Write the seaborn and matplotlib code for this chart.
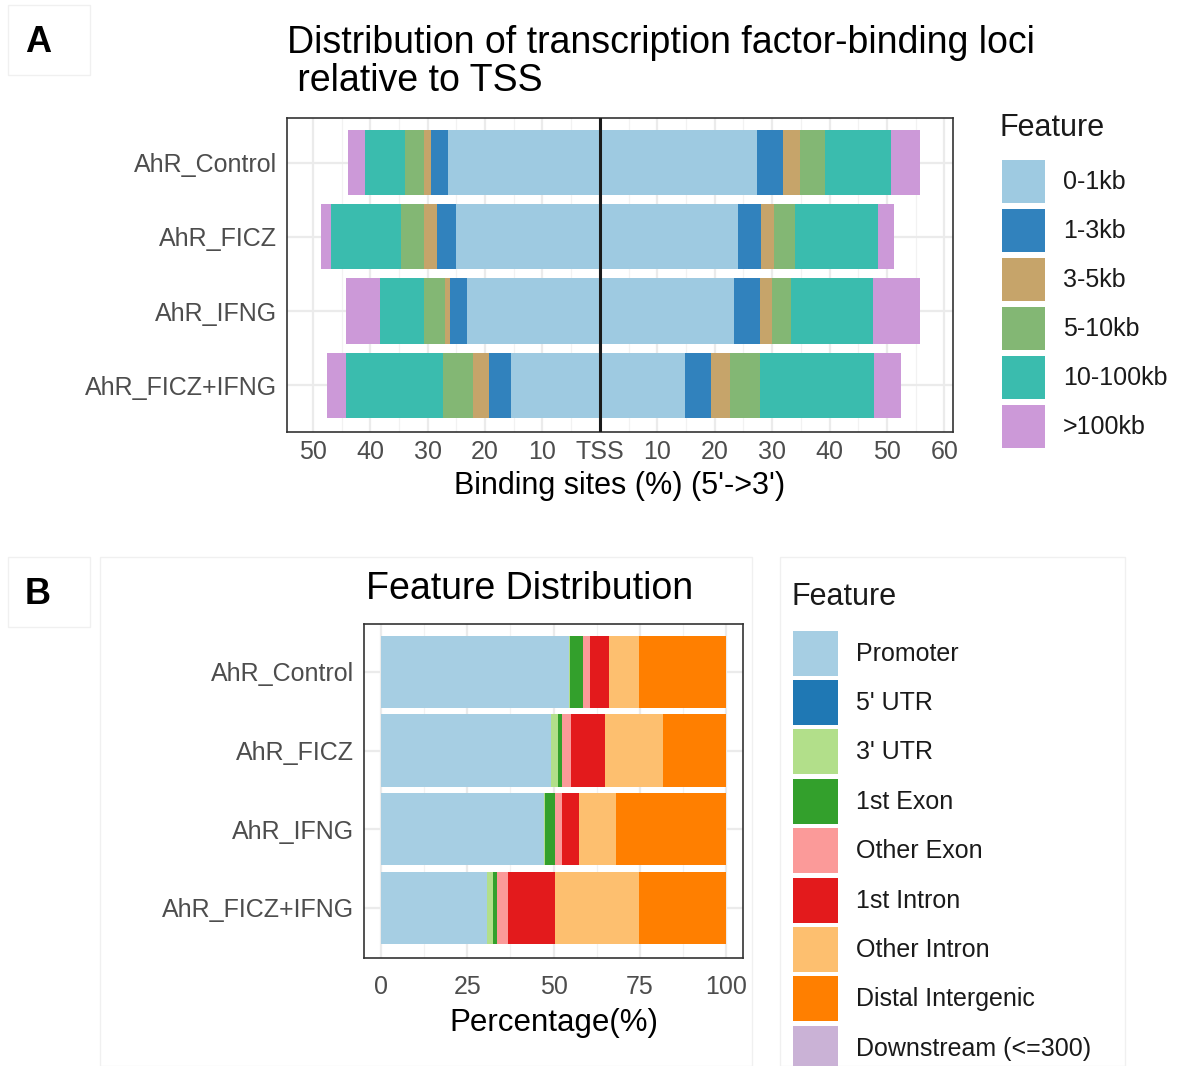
import numpy as np
import pandas as pd
import matplotlib
matplotlib.use("Agg")
import matplotlib.pyplot as plt
from matplotlib.patches import Patch, Rectangle
from matplotlib.ticker import FixedLocator
import seaborn as sns

# ---------------- data ----------------
groups = ["AhR_Control", "AhR_FICZ", "AhR_IFNG", "AhR_FICZ+IFNG"]

# Panel A: distance-to-TSS bins, percent of binding sites
tss_bins = ["0-1kb", "1-3kb", "3-5kb", "5-10kb", "10-100kb", ">100kb"]
tss_colors = ["#9ECAE1", "#3182BD", "#C6A46A", "#83B774", "#3ABCAE", "#CC99D8"]
upstream_control = [26.5, 2.9, 1.2, 3.3, 7.1, 2.8]
upstream_ficz = [25.0, 3.3, 2.3, 4.0, 12.2, 1.8]
upstream_ifng = [23.1, 3.0, 0.8, 3.7, 7.7, 5.9]
upstream_ficz_ifng = [15.4, 4.0, 2.7, 5.2, 16.9, 3.3]
downstream_control = [27.4, 4.5, 2.9, 4.4, 11.5, 5.1]
downstream_ficz = [24.0, 4.1, 2.2, 3.7, 14.4, 2.9]
downstream_ifng = [23.3, 4.5, 2.1, 3.4, 14.3, 8.1]
downstream_ficz_ifng = [14.8, 4.6, 3.2, 5.3, 19.8, 4.8]
tss_ticks = [-50, -40, -30, -20, -10, 0, 10, 20, 30, 40, 50, 60]
tss_tick_labels = ["50", "40", "30", "20", "10", "TSS", "10", "20", "30", "40", "50", "60"]

# Panel B: genomic feature annotation, percent
features = ["Promoter", "5' UTR", "3' UTR", "1st Exon", "Other Exon",
            "1st Intron", "Other Intron", "Distal Intergenic", "Downstream (<=300)"]
feature_colors = sns.color_palette("Paired", 9)
feat_control = [54.4, 0.0, 0.5, 3.7, 1.9, 5.7, 8.6, 25.2, 0.0]
feat_ficz = [49.3, 0.0, 1.9, 1.2, 2.6, 10.0, 16.8, 18.2, 0.0]
feat_ifng = [47.1, 0.0, 0.3, 3.1, 1.9, 5.0, 10.6, 32.0, 0.0]
feat_ficz_ifng = [30.6, 0.0, 1.8, 1.3, 3.1, 13.7, 24.3, 25.2, 0.0]
pct_ticks = [0, 25, 50, 75, 100]

# ---------------- style ----------------
sns.set_style("white")
plt.rcParams["font.family"] = ["Liberation Sans", "DejaVu Sans"]

W, H = 1200, 1066
fig = plt.figure(figsize=(W / 100, H / 100), dpi=100)


def fig_box(l, t, r, b):
    return [l / W, 1 - b / H, (r - l) / W, (b - t) / H]


def style_axes(ax, xpad):
    for s in ax.spines.values():
        s.set_color("#333333")
        s.set_linewidth(1.2)
    ax.set_axisbelow(True)
    ax.grid(which="major", color="#EBEBEB", lw=1.6)
    ax.grid(which="minor", axis="x", color="#F2F2F2", lw=0.9)
    ax.tick_params(axis="both", which="major", length=4, width=1.2,
                   color="#333333", labelcolor="#4D4D4D", labelsize=18, pad=3)
    ax.tick_params(axis="x", which="major", pad=xpad)
    ax.tick_params(which="minor", length=0)
    ax.set_ylabel("")


def stacked(ax, table, colors, sign, width):
    cum = np.cumsum(table, axis=1) * sign
    for k in range(table.shape[1] - 1, -1, -1):
        df = pd.DataFrame({"group": groups, "value": cum[:, k]})
        sns.barplot(data=df, x="value", y="group", order=groups, orient="h",
                    color=colors[k], width=width, saturation=1, errorbar=None,
                    linewidth=0, ax=ax)


def legend_kw(fs_pt, box_px, pitch_px, gap_px):
    fs = fs_pt * 100 / 72
    return dict(fontsize=fs_pt,
                handlelength=box_px / fs,
                handleheight=(box_px / fs - 0.245) / 0.65,
                labelspacing=(pitch_px - box_px) / fs,
                handletextpad=gap_px / fs)


# ---------------- panel A ----------------
axA = fig.add_axes(fig_box(287, 118, 953, 432))
up = np.array([upstream_control, upstream_ficz, upstream_ifng, upstream_ficz_ifng])
down = np.array([downstream_control, downstream_ficz, downstream_ifng, downstream_ficz_ifng])
stacked(axA, up, tss_colors, -1, 0.88)
stacked(axA, down, tss_colors, 1, 0.88)
axA.axvline(0, color="#1a1a1a", lw=2.2, zorder=5)
axA.set_xlim(-54.5, 61.5)
axA.set_ylim(3.63, -0.6)
axA.set_xticks(tss_ticks)
axA.set_xticklabels(tss_tick_labels)
axA.xaxis.set_minor_locator(FixedLocator(np.arange(-45, 60, 10)))
style_axes(axA, 1.5)
axA.set_xlabel("Binding sites (%) (5'->3')", fontsize=22, color="black", labelpad=5)
axA.set_ylabel("")

fig.text(287 / W, 1 - 62 / H,
         "Distribution of transcription factor-binding loci\n relative to TSS",
         fontsize=27, ha="left", va="center", linespacing=1.06, color="black")

legA = fig.legend(handles=[Patch(facecolor=c, edgecolor="none") for c in tss_colors],
                  labels=tss_bins, loc="upper left",
                  bbox_to_anchor=(1002 / W, 1 - 160 / H), frameon=False,
                  borderpad=0, borderaxespad=0, **legend_kw(18, 43, 49, 18))
for t in legA.get_texts():
    t.set_color("#1a1a1a")
fig.text(1000 / W, 1 - 128 / H, "Feature", fontsize=22, ha="left", va="center",
         color="#1a1a1a")

# ---------------- panel B ----------------
axB = fig.add_axes(fig_box(364, 624, 743, 958))
feat = np.array([feat_control, feat_ficz, feat_ifng, feat_ficz_ifng])
stacked(axB, feat, feature_colors, 1, 0.92)
axB.set_xlim(-5, 105)
axB.set_ylim(3.64, -0.61)
axB.set_xticks(pct_ticks)
axB.xaxis.set_minor_locator(FixedLocator([12.5, 37.5, 62.5, 87.5]))
style_axes(axB, 8)
axB.set_xlabel("Percentage(%)", fontsize=22.5, color="black", labelpad=7)
axB.set_ylabel("")

fig.text(530 / W, 1 - 589 / H, "Feature Distribution", fontsize=27,
         ha="center", va="center", color="black")

legB = fig.legend(handles=[Patch(facecolor=c, edgecolor="none") for c in feature_colors],
                  labels=features, loc="upper left",
                  bbox_to_anchor=(793 / W, 1 - 630.5 / H), frameon=False,
                  borderpad=0, borderaxespad=0, **legend_kw(18, 45, 49.4, 18))
for t in legB.get_texts():
    t.set_color("#1a1a1a")
fig.text(791 / W, 1 - 597 / H, "Feature", fontsize=22, ha="left", va="center",
         color="#1a1a1a")

# ---------------- panel letters and faint frames ----------------
frame_kw = dict(fill=False, edgecolor="#F0F0F0", lw=1, transform=fig.transFigure)
for (l, t, r, b) in [(8, 5, 90, 75), (8, 557, 90, 627), (100, 557, 752, 1066),
                     (780, 557, 1125, 1066)]:
    fig.patches.append(Rectangle((l / W, 1 - b / H), (r - l) / W, (b - t) / H, **frame_kw))
fig.text(38 / W, 1 - 42 / H, "A", fontsize=26, fontweight="bold", ha="center",
         va="center", color="black")
fig.text(38 / W, 1 - 594 / H, "B", fontsize=26, fontweight="bold", ha="center",
         va="center", color="black")

fig.savefig("out.png", dpi=100)
